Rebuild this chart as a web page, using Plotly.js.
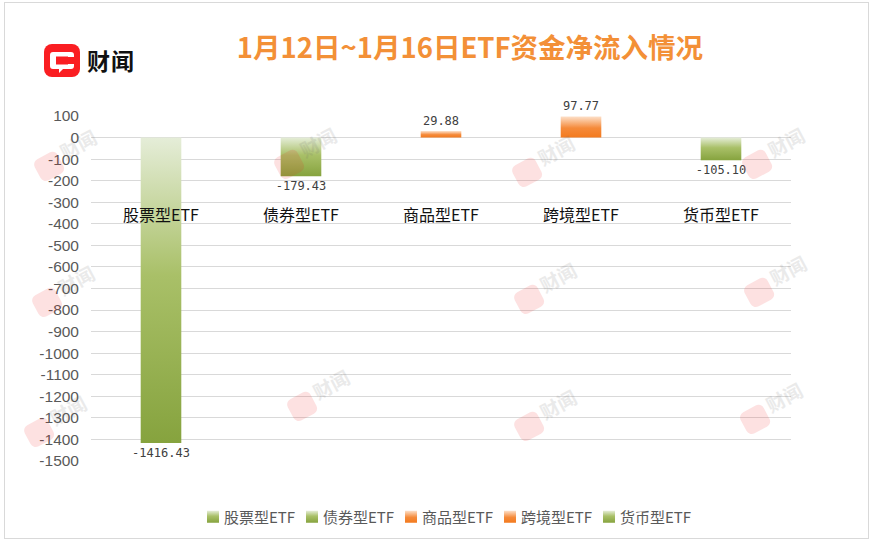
<!DOCTYPE html>
<html>
<head>
<meta charset="utf-8">
<script src="https://cdn.plot.ly/plotly-3.0.1.min.js"></script>
<style>
  html,body{margin:0;padding:0;background:#fff;}
  #wrap{position:relative;width:872px;height:543px;overflow:hidden;}
  #chart{position:absolute;left:0;top:0;width:872px;height:543px;}
  #frame{position:absolute;left:4px;top:2px;width:863px;height:535px;border:1px solid #d9d9d9;pointer-events:none;}
  #logo{position:absolute;left:44px;top:44px;width:36px;height:33px;background:#fa1e22;border-radius:8px;pointer-events:none;}
  #logotext{position:absolute;left:87px;top:44px;font-family:"Noto Sans CJK SC";font-weight:700;font-size:23px;line-height:32px;color:#111;letter-spacing:1px;pointer-events:none;}
  .wm{position:absolute;pointer-events:none;opacity:0.13;transform:rotate(-28deg);width:80px;height:40px;}
  .wm .ic{position:absolute;left:0;top:10px;width:26px;height:24px;background:#f02020;border-radius:6px;}
  .wm .tx{position:absolute;left:30px;top:4px;font-family:"Noto Sans CJK SC";font-weight:700;font-size:19px;color:#666;line-height:24px;}
</style>
</head>
<body>
<div id="wrap">
  <div id="chart"></div>
  <div id="frame"></div>
  <div id="logo">
    <svg width="36" height="33" viewBox="0 0 36 33">
      <path d="M9 8 H27 a3 3 0 0 1 3 3 V13 H24 V12.5 H12 V20.5 H24 V20 H30 V22 a3 3 0 0 1 -3 3 H19 L15 29 V25 H9 a3 3 0 0 1 -3 -3 V11 a3 3 0 0 1 3 -3 Z" fill="#fff"/>
    </svg>
  </div>
  <div id="logotext">财闻</div>
</div>
<script>
// ---- data ----
const categories = ["股票型ETF", "债券型ETF", "商品型ETF", "跨境型ETF", "货币型ETF"];
const values = [-1416.43, -179.43, 29.88, 97.77, -105.10];
const labels = ["-1416.43", "-179.43", "29.88", "97.77", "-105.10"];
const yTicks = [100, 0, -100, -200, -300, -400, -500, -600, -700, -800, -900, -1000, -1100, -1200, -1300, -1400, -1500];
const titleText = "1月12日~1月16日ETF资金净流入情况";

const green = "#8aa845";
const orange = "#f47c20";
const colorKind = values.map(v => v < 0 ? "g" : "o");

const traces = categories.map((c, i) => ({
  type: "bar",
  x: [c],
  y: [values[i]],
  name: c,
  width: 0.29,
  marker: {color: colorKind[i] === "g" ? green : orange},
  text: [labels[i]],
  textposition: "outside",
  constraintext: "none",
  cliponaxis: false,
  textfont: {family: "DejaVu Sans Mono", size: 12, color: "#404040"},
  hoverinfo: "none"
}));

const layout = {
  width: 872, height: 543,
  margin: {l: 91, r: 81, t: 116, b: 82},
  paper_bgcolor: "rgba(0,0,0,0)",
  plot_bgcolor: "rgba(0,0,0,0)",
  barmode: "overlay",
  showlegend: true,
  title: {
    text: titleText,
    x: 470/872, xanchor: "center", xref: "container",
    y: 1 - 48/543, yanchor: "middle", yref: "container",
    font: {family: "Noto Sans CJK SC", size: 27.5, color: "#f39037", weight: 700}
  },
  xaxis: {
    type: "category",
    categoryarray: categories,
    range: [-0.5, 4.5],
    showgrid: false, zeroline: false, showline: false,
    ticks: "",
    anchor: "free",
    position: 0.745,
    tickfont: {family: "Noto Sans CJK SC", size: 16, color: "#111"},
    fixedrange: true
  },
  yaxis: {
    range: [-1500, 100],
    tickvals: yTicks,
    ticktext: yTicks.map(String),
    showgrid: true, gridcolor: "#d9d9d9", gridwidth: 1,
    zeroline: true, zerolinecolor: "#d9d9d9", zerolinewidth: 1,
    showline: false, ticks: "",
    ticklabelstandoff: 11,
    tickfont: {family: "Liberation Sans", size: 15.5, color: "#595959"},
    fixedrange: true
  },
  legend: {
    orientation: "h",
    xref: "container", yref: "container",
    x: 193/872, xanchor: "left",
    y: 1 - 517/543, yanchor: "middle",
    font: {family: "Noto Sans CJK SC", size: 15, color: "#595959"},
    itemclick: false, itemdoubleclick: false,
    entrywidth: 54, entrywidthmode: "pixels",
    itemwidth: 30
  }
};

Plotly.newPlot("chart", traces, layout, {displayModeBar: false, staticPlot: true}).then(gd => {
  const svg = gd.querySelector("svg.main-svg");
  const ns = "http://www.w3.org/2000/svg";
  const defs = document.createElementNS(ns, "defs");
  function grad(id, stops) {
    const lg = document.createElementNS(ns, "linearGradient");
    lg.setAttribute("id", id);
    lg.setAttribute("x1", "0"); lg.setAttribute("y1", "0");
    lg.setAttribute("x2", "0"); lg.setAttribute("y2", "1");
    stops.forEach(s => {
      const st = document.createElementNS(ns, "stop");
      st.setAttribute("offset", s[0]);
      st.setAttribute("stop-color", s[1]);
      lg.appendChild(st);
    });
    defs.appendChild(lg);
  }
  grad("gradG", [["0", "#e5edd8"], ["0.45", "#a9c068"], ["1", "#86a33e"]]);
  grad("gradO", [["0", "#fde0c9"], ["0.55", "#f58a3a"], ["1", "#f37a1e"]]);
  svg.insertBefore(defs, svg.firstChild);

  const barTraces = gd.querySelectorAll(".barlayer .trace");
  barTraces.forEach((t, i) => {
    t.querySelectorAll("path").forEach(p => {
      p.style.fill = colorKind[i] === "g" ? "url(#gradG)" : "url(#gradO)";
    });
  });
  const legTraces = gd.querySelectorAll(".legend .traces");
  legTraces.forEach((t, i) => {
    t.querySelectorAll(".legendpoints path").forEach(p => {
      p.style.fill = colorKind[i] === "g" ? "url(#gradG)" : "url(#gradO)";
    });
    const tx = t.querySelector("text.legendtext");
    if (tx) tx.setAttribute("x", String(parseFloat(tx.getAttribute("x") || "40") - 9));
  });
  gd.querySelectorAll(".legend [clip-path]").forEach(e => e.removeAttribute("clip-path"));

  // watermarks (decorative)
  const wrap = document.getElementById("wrap");
  const wmPos = [[32,132],[272,130],[510,138],[740,130],
                 [30,268],[512,265],[742,258],
                 [22,398],[285,372],[512,392],[738,385]];
  wmPos.forEach(p => {
    const d = document.createElement("div");
    d.className = "wm";
    d.style.left = p[0] + "px"; d.style.top = p[1] + "px";
    d.innerHTML = '<div class="ic"></div><div class="tx">财闻</div>';
    wrap.appendChild(d);
  });
});
</script>
</body>
</html>
